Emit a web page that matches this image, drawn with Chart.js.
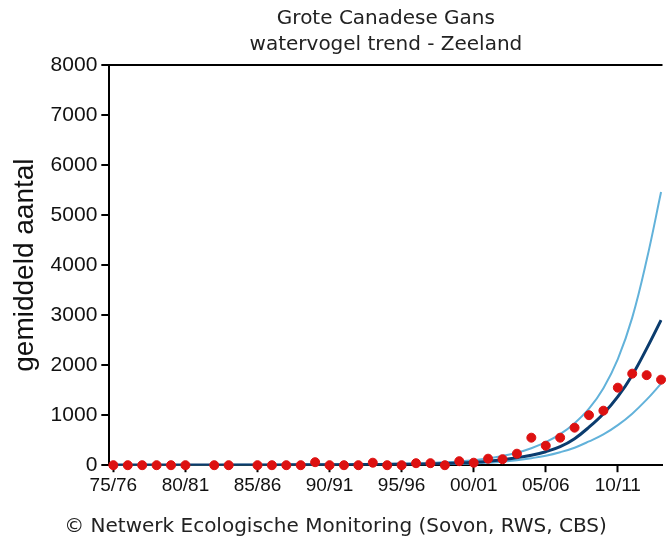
<!DOCTYPE html>
<html lang="nl">

<head>
    <meta charset="UTF-8">
    <script src="https://cdn.jsdelivr.net/npm/chart.js"></script>
    <title>Grote Canadese Gans - Zeeland</title>
    <style>
        body {
            margin: 0;
            background: #fff;
            overflow: hidden;
        }

        .chart-box {
            width: 668px;
            height: 545px;
        }
    </style>
</head>

<body>
    <div class="chart-box">
        <canvas id="gansChart"></canvas>
    </div>
    <script>
        // seizoenen 75/76 t/m 13/14
        const seizoenen = ['75/76', '76/77', '77/78', '78/79', '79/80', '80/81', '81/82', '82/83', '83/84', '84/85',
            '85/86', '86/87', '87/88', '88/89', '89/90', '90/91', '91/92', '92/93', '93/94', '94/95',
            '95/96', '96/97', '97/98', '98/99', '99/00', '00/01', '01/02', '02/03', '03/04', '04/05',
            '05/06', '06/07', '07/08', '08/09', '09/10', '10/11', '11/12', '12/13', '13/14'];
        const labelPosities = [0, 5, 10, 15, 20, 25, 30, 35];
        const yTicks = [0, 1000, 2000, 3000, 4000, 5000, 6000, 7000, 8000];

        // getelde gemiddelden (rode punten), null = geen telling
        const gemiddeld = [0, 0, 0, 0, 0, 0, null, 0, 0, null,
            0, 0, 0, 0, 60, 0, 0, 0, 50, 0,
            0, 40, 40, 0, 80, 50, 130, 120, 230, 550,
            390, 550, 750, 1000, 1090, 1550, 1830, 1800, 1710];

        // trend en betrouwbaarheidsgrenzen
        const trend = [2, 2, 2, 3, 3, 3, 4, 4, 5, 5,
            6, 6, 7, 8, 9, 10, 11, 12, 14, 16,
            18, 21, 26, 33, 44, 60, 80, 110, 150, 200,
            270, 370, 530, 760, 1030, 1370, 1800, 2330, 2900];
        const bovengrens = [3, 3, 4, 4, 5, 5, 6, 6, 7, 8,
            9, 10, 11, 12, 14, 16, 18, 20, 23, 27,
            31, 37, 45, 57, 75, 100, 135, 185, 250, 340,
            460, 620, 840, 1130, 1540, 2120, 2950, 4100, 5460];
        const ondergrens = [1, 1, 1, 2, 2, 2, 3, 3, 3, 3,
            4, 4, 5, 5, 6, 6, 7, 8, 9, 10,
            11, 13, 16, 20, 26, 36, 50, 70, 100, 140,
            190, 260, 350, 475, 615, 800, 1030, 1310, 1630];

        function punten(reeks) {
            return reeks.map((v, i) => ({ x: i, y: v }));
        }

        const lijn = {
            type: 'line',
            pointRadius: 0,
            fill: false,
            tension: 0.4
        };

        const ctx = document.getElementById('gansChart').getContext('2d');
        new Chart(ctx, {
            type: 'scatter',
            data: {
                datasets: [{
                    label: 'gemiddeld aantal',
                    data: punten(gemiddeld),
                    backgroundColor: '#dd1111',
                    borderColor: '#dd1111',
                    pointRadius: 4.5,
                    clip: false
                }, {
                    ...lijn,
                    label: 'trend',
                    data: punten(trend),
                    borderColor: '#0b3c6e',
                    borderWidth: 3
                }, {
                    ...lijn,
                    label: 'bovengrens',
                    data: punten(bovengrens),
                    borderColor: '#62b2da',
                    borderWidth: 2
                }, {
                    ...lijn,
                    label: 'ondergrens',
                    data: punten(ondergrens),
                    borderColor: '#62b2da',
                    borderWidth: 2
                }]
            },
            options: {
                responsive: true,
                maintainAspectRatio: false,
                animation: false,
                layout: {
                    padding: { left: 3, right: 0, top: 0, bottom: 0 }
                },
                plugins: {
                    legend: { display: false },
                    tooltip: { enabled: false },
                    title: {
                        display: true,
                        fullSize: false,
                        text: ['Grote Canadese Gans', 'watervogel trend - Zeeland'],
                        color: '#222',
                        font: { family: 'DejaVu Sans', size: 20, weight: 'normal', lineHeight: 1.3 },
                        padding: { top: 6, bottom: 7 }
                    },
                    subtitle: {
                        display: true,
                        position: 'bottom',
                        text: '© Netwerk Ecologische Monitoring (Sovon, RWS, CBS)',
                        color: '#222',
                        font: { family: 'DejaVu Sans', size: 20, weight: 'normal', lineHeight: 1.2 },
                        padding: { top: 16, bottom: 6 }
                    }
                },
                scales: {
                    x: {
                        type: 'linear',
                        min: -0.28,
                        max: 38.1,
                        afterBuildTicks: function (scale) {
                            scale.ticks = labelPosities.map(v => ({ value: v }));
                        },
                        ticks: {
                            color: '#111',
                            font: { family: 'Liberation Sans', size: 19 },
                            padding: 2,
                            maxRotation: 0,
                            autoSkip: false,
                            callback: function (value) {
                                return seizoenen[value];
                            }
                        },
                        grid: {
                            color: 'transparent',
                            tickColor: '#000',
                            tickLength: 7,
                            tickWidth: 2
                        },
                        border: { display: true, color: '#000', width: 2 }
                    },
                    y: {
                        min: 0,
                        max: 8000,
                        afterBuildTicks: function (scale) {
                            scale.ticks = yTicks.map(v => ({ value: v }));
                        },
                        ticks: {
                            color: '#111',
                            font: { family: 'Liberation Sans', size: 21 },
                            padding: 4,
                            callback: function (value) {
                                return String(value);
                            }
                        },
                        grid: {
                            color: function (c) {
                                return c.tick && c.tick.value === 8000 ? '#000' : 'transparent';
                            },
                            lineWidth: 2,
                            tickColor: '#000',
                            tickLength: 8,
                            tickWidth: 2
                        },
                        border: { display: true, color: '#000', width: 2 },
                        title: {
                            display: true,
                            text: 'gemiddeld aantal',
                            color: '#111',
                            font: { family: 'Liberation Sans', size: 28 },
                            padding: { top: 5, bottom: 5 }
                        }
                    }
                }
            }
        });
    </script>
</body>

</html>
